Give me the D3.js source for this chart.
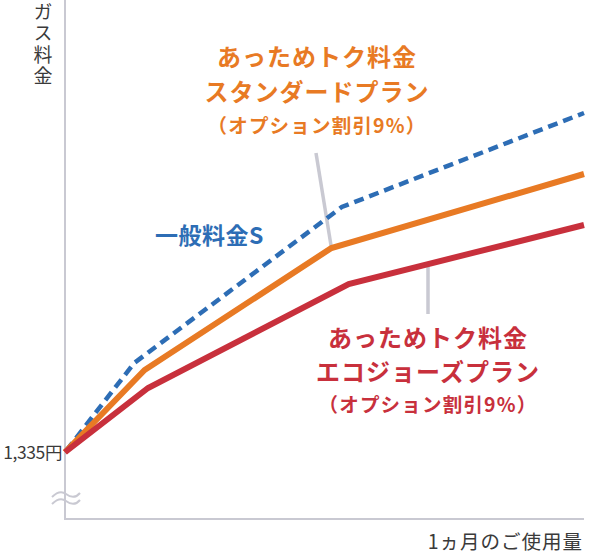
<!DOCTYPE html>
<html><head><meta charset="utf-8">
<script src="https://cdn.jsdelivr.net/npm/d3@7"></script>
<style>
html,body{margin:0;padding:0;background:#fff;}
text{font-family:"Noto Sans CJK JP","Noto Sans",sans-serif;}
</style></head>
<body><svg id="c" width="590" height="560"></svg>
<script>
// usage (m3, illustrative) and fee (yen)
const usage = [0, 150];
const ippanX = [0, 20, 80, 150];
const ippanY = [1335, 3120, 6240, 8120];
const standardX = [0, 23, 77, 150];
const standardY = [1335, 2980, 5420, 6900];
const ecoX = [0, 24, 82, 150];
const ecoY = [1335, 2620, 4700, 5880];
const baseTickLabel = "1,335円";
const yAxisTitle = "ガス料金";
const xAxisTitle = "1ヵ月のご使用量";
const ippanLabel = ["一般料金S"];
const standardLabel = ["あっためトク料金","スタンダードプラン","（オプション割引9%）"];
const ecoLabel = ["あっためトク料金","エコジョーズプラン","（オプション割引9%）"];

const svg = d3.select("#c");
const x = d3.scaleLinear().domain(usage).range([65, 584]);
const y = d3.scaleLinear().domain([0, 10380]).range([519, 0]);

const gray = "#c9c9d2";
const blue = "#2d6db5", orange = "#e87a24", red = "#c8303c";

// axes
svg.append("line").attr("x1",x(0)).attr("x2",x(0)).attr("y1",0).attr("y2",y(0))
  .attr("stroke",gray).attr("stroke-width",2);
svg.append("line").attr("x1",x(0)-1).attr("x2",x(150)).attr("y1",y(0)).attr("y2",y(0))
  .attr("stroke",gray).attr("stroke-width",2);
// break mark
[0,7].forEach(d=>{
  svg.append("path")
    .attr("d",`M52,${497+d} C58,${491+d} 62,${491+d} 66,${494+d} S75,${499+d} 80,${493+d}`)
    .attr("fill","none").attr("stroke",gray).attr("stroke-width",2);
});

// labels
svg.append("text").attr("x",43).attr("y",2)
  .attr("writing-mode","vertical-rl").attr("style","text-orientation:upright")
  .attr("font-size",19).attr("letter-spacing",2.5).attr("fill","#3a3a3a").text(yAxisTitle);
svg.append("text").attr("x",62).attr("y",y(1335)).attr("dy","0.36em")
  .attr("text-anchor","end").attr("font-size",17.5).attr("letter-spacing",-0.4)
  .attr("fill","#3a3a3a").text(baseTickLabel);
svg.append("text").attr("x",583).attr("y",542).attr("dy","0.36em")
  .attr("text-anchor","end").attr("font-size",19.5).attr("letter-spacing",1)
  .attr("fill","#3a3a3a").text(xAxisTitle);

// leader lines
svg.append("line").attr("x1",316).attr("y1",153).attr("x2",x(standardX[2])).attr("y2",y(standardY[2]))
  .attr("stroke",gray).attr("stroke-width",3.5);
const ecoAt = xv => { // fee on eco line at usage xv (segment 2)
  const t=(xv-ecoX[2])/(ecoX[3]-ecoX[2]); return ecoY[2]+t*(ecoY[3]-ecoY[2]); };
const ecoLeaderX = x.invert(428);
svg.append("line").attr("x1",428).attr("x2",428).attr("y1",y(ecoAt(ecoLeaderX))).attr("y2",314)
  .attr("stroke",gray).attr("stroke-width",3.5);

// lines
const line = d3.line().x(d=>x(d[0])).y(d=>y(d[1]));
svg.append("path").datum(d3.zip(ippanX,ippanY)).attr("d",line)
  .attr("fill","none").attr("stroke",blue).attr("stroke-width",4.5)
  .attr("stroke-dasharray","10,6").attr("stroke-dashoffset",-2);
svg.append("path").datum(d3.zip(standardX,standardY)).attr("d",line)
  .attr("fill","none").attr("stroke",orange).attr("stroke-width",6).attr("stroke-linejoin","miter");
svg.append("path").datum(d3.zip(ecoX,ecoY)).attr("d",line)
  .attr("fill","none").attr("stroke",red).attr("stroke-width",6).attr("stroke-linejoin","miter");

// series labels
svg.append("text").attr("x",155).attr("y",236).attr("dy","0.36em")
  .attr("font-size",23).attr("font-weight",700).attr("fill",blue).attr("letter-spacing",0.5)
  .text(ippanLabel[0]);
function block(lines, cx, ys, color){
  lines.forEach((t,i)=>{
    svg.append("text").attr("x",cx).attr("y",ys[i]).attr("dy","0.36em")
      .attr("text-anchor","middle").attr("font-size",i<2?24:19.5).attr("font-weight",700)
      .attr("letter-spacing",i<2?1:1.2).attr("fill",color).text(t);
  });
}
block(standardLabel, 317, [57,92,126], orange);
block(ecoLabel, 428, [338,372,405], red);
</script></body></html>
